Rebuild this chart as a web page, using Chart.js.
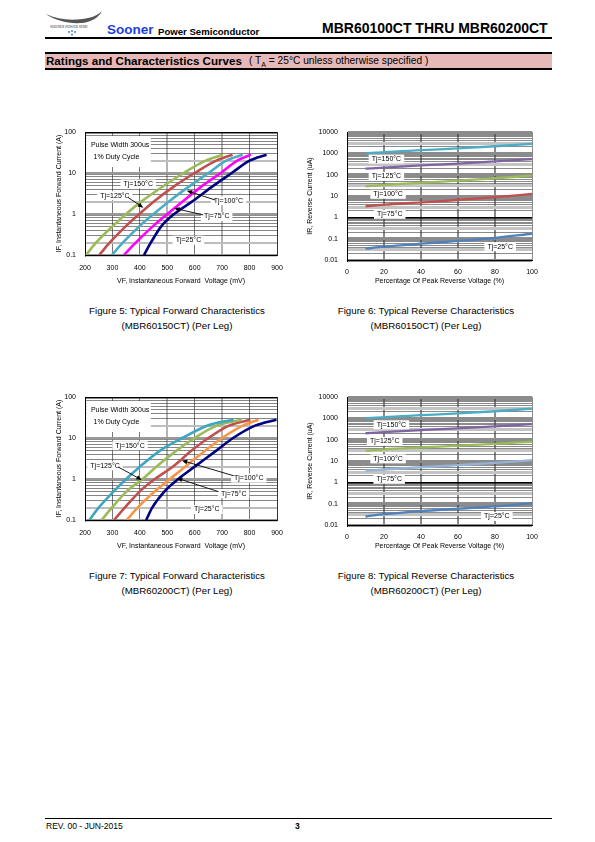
<!DOCTYPE html>
<html>
<head>
<meta charset="utf-8">
<script src="https://cdn.jsdelivr.net/npm/chart.js@4.4.1/dist/chart.umd.min.js"></script>
<style>
  body { margin: 0; background: #fff; font-family: "Liberation Sans", Arial, sans-serif; }
  #page { position: relative; width: 595px; height: 842px; overflow: hidden; }
  canvas { position: absolute; }
  .t { position: absolute; white-space: nowrap; color: #000; }
  .cap { position: absolute; width: 260px; text-align: center; font-size: 9.7px; line-height: 15px; }
</style>
</head>
<body>
<div id="page">
  <svg class="t" style="left:44px;top:9px" width="62" height="28" viewBox="0 0 62 28">
    <path d="M2 5 C 14 11, 30 12, 44 9 C 50 8, 55 5, 58 2 C 55 8, 48 13, 38 14 C 24 15, 10 11, 2 5 Z" fill="#555"/>
    <text x="6" y="19" font-size="3.6" font-family="Liberation Serif" fill="#333">SOONER POWER SEMI</text>
    <circle cx="25" cy="23" r="0.9" fill="#3a7bd5"/><circle cx="28" cy="22" r="0.9" fill="#3a7bd5"/>
    <circle cx="31" cy="23" r="0.9" fill="#3a7bd5"/><circle cx="28" cy="25.5" r="0.9" fill="#3a7bd5"/>
  </svg>
  <div class="t" style="left:107px;top:22px;font-size:13.5px;font-weight:bold;color:#1d3fe0">Sooner</div>
  <div class="t" style="left:158px;top:26px;font-size:9.6px;font-weight:bold">Power Semiconductor</div>
  <div class="t" style="left:322px;top:20px;font-size:14px;font-weight:bold">MBR60100CT THRU MBR60200CT</div>
  <div style="position:absolute;left:45px;top:37px;width:507px;height:1.5px;background:#000"></div>

  <div style="position:absolute;left:45px;top:52px;width:507px;height:18px;box-sizing:border-box;background:#e6b9b8;border-top:2px solid #000;border-bottom:2px solid #000"></div>
  <div class="t" style="left:46px;top:53.5px;font-size:11.6px;font-weight:bold">Ratings and Characteristics Curves</div>
  <div class="t" style="left:249px;top:54.5px;font-size:10.2px">( T<sub style="font-size:7px">A</sub> = 25°C unless otherwise specified )</div>

  <canvas id="fig5" width="235" height="165" style="left:50px;top:125px"></canvas>
  <canvas id="fig6" width="240" height="165" style="left:300px;top:125px"></canvas>
  <canvas id="fig7" width="235" height="165" style="left:50px;top:390px"></canvas>
  <canvas id="fig8" width="240" height="165" style="left:300px;top:390px"></canvas>

  <div class="cap" style="left:47px;top:303px">Figure 5: Typical Forward Characteristics<br>(MBR60150CT) (Per Leg)</div>
  <div class="cap" style="left:296px;top:303px">Figure 6: Typical Reverse Characteristics<br>(MBR60150CT) (Per Leg)</div>
  <div class="cap" style="left:47px;top:568px">Figure 7: Typical Forward Characteristics<br>(MBR60200CT) (Per Leg)</div>
  <div class="cap" style="left:296px;top:568px">Figure 8: Typical Reverse Characteristics<br>(MBR60200CT) (Per Leg)</div>

  <div style="position:absolute;left:45px;top:818px;width:507px;height:1.3px;background:#000"></div>
  <div class="t" style="left:46px;top:821px;font-size:8.5px">REV. 00 - JUN-2015</div>
  <div class="t" style="left:295px;top:821px;font-size:8.5px;font-weight:bold">3</div>
</div>

<script>
// forward curves: current levels (A) and voltage (mV) read per curve
const fwdCurrent = [0.1, 0.2, 0.5, 1, 2, 5, 10, 20, 28];
const fwdVoltTicks = [200, 300, 400, 500, 600, 700, 800, 900];
const fwdCurrTicks = [0.1, 1, 10, 100];

const f5_150 = [204, 240, 300, 350, 405, 490, 560, 640, 703];
const f5_125 = [252, 290, 348, 398, 450, 530, 600, 678, 738];
const f5_100 = [298, 338, 398, 450, 505, 585, 650, 715, 775];
const f5_75 = [342, 385, 447, 500, 555, 630, 695, 755, 805];
const f5_25 = [415, 440, 478, 525, 590, 670, 735, 800, 862];

const f7_150 = [216, 250, 305, 350, 400, 475, 555, 645, 742];
const f7_125 = [261, 298, 352, 410, 460, 535, 600, 680, 772];
const f7_100 = [306, 345, 400, 455, 520, 590, 650, 725, 803];
const f7_75 = [352, 392, 455, 510, 565, 640, 700, 775, 833];
const f7_25 = [423, 445, 490, 540, 600, 680, 740, 820, 898];

// reverse curves: percent of peak reverse voltage and current (uA)
const revPct = [10, 20, 40, 60, 80, 100];
const revPctTicks = [0, 20, 40, 60, 80, 100];
const revCurrTicks = [0.01, 0.1, 1, 10, 100, 1000, 10000];

const f6_150 = [1000, 1150, 1400, 1700, 2150, 2800];
const f6_125 = [190, 215, 270, 330, 420, 540];
const f6_100 = [28, 33, 42, 52, 68, 90];
const f6_75 = [3.3, 3.9, 5.0, 6.5, 8.8, 12.5];
const f6_25 = [0.034, 0.042, 0.058, 0.078, 0.11, 0.17];

const f8_150 = [1000, 1150, 1400, 1700, 2150, 2850];
const f8_125 = [200, 225, 280, 340, 420, 540];
const f8_100 = [30, 35, 43, 52, 64, 80];
const f8_75 = [3.5, 4.0, 5.1, 6.4, 8.2, 11];
const f8_25 = [0.025, 0.032, 0.045, 0.058, 0.075, 0.105];

const FONT = "Liberation Sans";

function logGrid(lo, hi) {
  const out = [];
  for (let e = lo; e < hi; e++)
    for (let m = 1; m <= 9; m++) out.push(+(m * Math.pow(10, e)).toPrecision(3));
  out.push(Math.pow(10, hi));
  return out;
}
function mant(v) {
  return Math.round(v / Math.pow(10, Math.floor(Math.log10(v) + 1e-9)));
}

function notesPlugin(notes) {
  return {
    id: 'notes',
    beforeDatasetsDraw(chart) {
      const { ctx, scales: { x, y } } = chart;
      ctx.save();
      ctx.font = '7px "' + FONT + '"';
      ctx.textAlign = 'center';
      ctx.textBaseline = 'middle';
      (notes.boxes || []).forEach(b => {
        const x0 = x.getPixelForValue(b.x0), x1 = x.getPixelForValue(b.x1);
        const y0 = y.getPixelForValue(b.y0), y1 = y.getPixelForValue(b.y1);
        ctx.fillStyle = '#fff';
        ctx.fillRect(x0, y0, x1 - x0, y1 - y0);
      });
      notes.labels.forEach(l => {
        const px = x.getPixelForValue(l.x), py = y.getPixelForValue(l.y);
        const w = ctx.measureText(l.text).width + (l.plain ? 0 : 6);
        if (!l.plain) {
          ctx.fillStyle = '#fff';
          ctx.fillRect(px - w / 2, py - 4.5, w, 9);
        }
        ctx.fillStyle = '#000';
        ctx.fillText(l.text, px, py);
      });
      ctx.restore();
    },
    afterDatasetsDraw(chart) {
      const { ctx, scales: { x, y } } = chart;
      ctx.save();
      ctx.strokeStyle = '#000';
      ctx.fillStyle = '#000';
      ctx.lineWidth = 0.9;
      (notes.arrows || []).forEach(a => {
        const x0 = x.getPixelForValue(a[0]), y0 = y.getPixelForValue(a[1]);
        const x1 = x.getPixelForValue(a[2]), y1 = y.getPixelForValue(a[3]);
        const ang = Math.atan2(y1 - y0, x1 - x0);
        ctx.beginPath();
        ctx.moveTo(x0, y0);
        ctx.lineTo(x1 - 4 * Math.cos(ang), y1 - 4 * Math.sin(ang));
        ctx.stroke();
        ctx.beginPath();
        ctx.moveTo(x1, y1);
        ctx.lineTo(x1 - 5.5 * Math.cos(ang) + 2.3 * Math.sin(ang), y1 - 5.5 * Math.sin(ang) - 2.3 * Math.cos(ang));
        ctx.lineTo(x1 - 5.5 * Math.cos(ang) - 2.3 * Math.sin(ang), y1 - 5.5 * Math.sin(ang) + 2.3 * Math.cos(ang));
        ctx.closePath();
        ctx.fill();
      });
      ctx.restore();
    }
  };
}

function makeChart(id, cfg) {
  const tickFont = { family: FONT, size: 7 };
  const titleFont = { family: FONT, size: 7 };
  new Chart(document.getElementById(id), {
    type: 'line',
    data: {
      datasets: cfg.series.map((s, i) => ({
        data: s.map((v, k) => cfg.swap ? { x: v, y: cfg.levels[k] } : { x: cfg.levels[k], y: v }),
        borderColor: cfg.colors[i],
        borderWidth: cfg.lineWidth,
        pointRadius: 0,
        fill: false,
        tension: 0.4,
        cubicInterpolationMode: 'monotone'
      }))
    },
    options: {
      responsive: false,
      animation: false,
      layout: { padding: { top: 7, right: 8 } },
      plugins: { legend: { display: false }, tooltip: { enabled: false } },
      scales: {
        x: {
          type: 'linear', min: cfg.xTicks[0], max: cfg.xTicks[cfg.xTicks.length - 1],
          afterBuildTicks: ax => { ax.ticks = cfg.xTicks.map(v => ({ value: v })); },
          afterFit: s => { s.height = cfg.xHeight; s.paddingLeft = 0; s.paddingRight = 0; },
          ticks: { font: tickFont, color: '#000', padding: cfg.xPad, maxRotation: 0, autoSkip: false },
          grid: {
            drawTicks: false,
            color: c => cfg.xGridColor(c.tick.value),
            lineWidth: c => cfg.xGridWidth(c.tick.value)
          },
          border: { display: true, color: '#000', width: 1 },
          title: { display: true, text: cfg.xTitle, font: titleFont, color: '#000', padding: { top: 0, bottom: 5 } }
        },
        y: {
          type: 'logarithmic', min: cfg.yTicks[0], max: cfg.yTicks[cfg.yTicks.length - 1],
          afterBuildTicks: ax => { ax.ticks = cfg.yGrid.map(v => ({ value: v })); },
          afterFit: s => { s.width = cfg.yWidth; s.paddingTop = 0; s.paddingBottom = 0; },
          ticks: {
            font: tickFont, color: '#000', padding: 9, autoSkip: false,
            callback: v => cfg.yTicks.includes(v) ? String(v) : ''
          },
          grid: {
            drawTicks: false,
            color: c => cfg.yGridColor(c.tick.value),
            lineWidth: c => cfg.yGridWidth(c.tick.value)
          },
          border: { display: true, color: '#000', width: 1 },
          title: { display: true, text: cfg.yTitle, font: titleFont, color: '#000', padding: { top: cfg.yTitlePad, bottom: 0 } }
        }
      }
    },
    plugins: [notesPlugin(cfg.notes)]
  });
}

// gridline styling
const fwdXColor = v => (v === 900 ? '#000' : (v === 500 || v === 700) ? '#b4b4b4' : '#555');
const fwdXWidth = v => (v === 500 || v === 700) ? 2 : 0.8;
const fwdYColor = v => (v === 100 ? '#000' : mant(v) === 1 ? '#9a9a9a' : mant(v) === 2 ? '#bdbdbd' : '#333');
const fwdYWidth = v => (v === 100 ? 1 : mant(v) === 1 ? 2.5 : mant(v) === 2 ? 2 : 0.6);
const revXColor = v => (v === 0 ? '#000' : '#8a8a8a');
const revXWidth = v => (v === 0 || v === 100 ? 1 : 2);
const revYColor = v => (v === 1 ? '#000' : mant(v) === 1 ? '#8c8c8c' : mant(v) === 3 ? '#c4c4c4' : '#3c3c3c');
const revYWidth = v => (v === 1 ? 1.5 : mant(v) === 1 || mant(v) === 3 ? 3 : 0.6);

const fwdBase = {
  swap: true, levels: fwdCurrent, lineWidth: 2.6,
  xTicks: fwdVoltTicks, yTicks: fwdCurrTicks, yGrid: logGrid(-1, 2),
  xHeight: 35, yWidth: 35, xPad: 9, yTitlePad: 5,
  xTitle: 'VF, Instantaneous Forward  Voltage (mV)',
  yTitle: 'IF, Instantaneous Forward Current (A)',
  xGridColor: fwdXColor, xGridWidth: fwdXWidth, yGridColor: fwdYColor, yGridWidth: fwdYWidth
};
const revBase = {
  swap: false, levels: revPct, lineWidth: 2.3,
  xTicks: revPctTicks, yTicks: revCurrTicks, yGrid: logGrid(-2, 4),
  xHeight: 30, yWidth: 47, xPad: 8, yTitlePad: 6,
  xTitle: 'Percentage Of Peak Reverse Voltage (%)',
  yTitle: 'IR, Reverse Current (uA)',
  xGridColor: revXColor, xGridWidth: revXWidth, yGridColor: revYColor, yGridWidth: revYWidth
};

makeChart('fig5', Object.assign({}, fwdBase, {
  series: [f5_150, f5_125, f5_100, f5_75, f5_25],
  colors: ['#9bbb59', '#c0504d', '#4bacc6', '#ff00ff', '#000080'],
  notes: {
    boxes: [{ x0: 205, x1: 440, y0: 80, y1: 14 }],
    labels: [
      { text: 'Pulse Width 300us', x: 328, y: 49, plain: true },
      { text: '1% Duty Cycle', x: 315, y: 24, plain: true },
      { text: 'Tj=150°C', x: 394, y: 5.4 },
      { text: 'Tj=125°C', x: 309, y: 2.8 },
      { text: 'Tj=100°C', x: 723, y: 2.1 },
      { text: 'Tj=75°C', x: 680, y: 0.87 },
      { text: 'Tj=25°C', x: 577, y: 0.23 }
    ],
    arrows: [[358, 2.5, 413, 1.43], [674, 2.2, 571, 3.7], [631, 0.95, 525, 1.38]]
  }
}));

makeChart('fig7', Object.assign({}, fwdBase, {
  series: [f7_150, f7_125, f7_100, f7_75, f7_25],
  colors: ['#3fa6c2', '#9bbb59', '#c0504d', '#f79646', '#000080'],
  notes: {
    boxes: [{ x0: 205, x1: 440, y0: 80, y1: 14 }],
    labels: [
      { text: 'Pulse Width 300us', x: 328, y: 49, plain: true },
      { text: '1% Duty Cycle', x: 315, y: 24, plain: true },
      { text: 'Tj=150°C', x: 364, y: 6.5 },
      { text: 'Tj=125°C', x: 273, y: 2.1 },
      { text: 'Tj=100°C', x: 797, y: 1.05 },
      { text: 'Tj=75°C', x: 742, y: 0.44 },
      { text: 'Tj=25°C', x: 644, y: 0.18 }
    ],
    arrows: [[322, 1.95, 407, 0.95], [742, 1.2, 553, 2.83], [687, 0.49, 535, 1.05]]
  }
}));

makeChart('fig6', Object.assign({}, revBase, {
  series: [f6_150, f6_125, f6_100, f6_75, f6_25],
  colors: ['#4bacc6', '#8064a2', '#9bbb59', '#c0504d', '#4f81bd'],
  notes: {
    labels: [
      { text: 'Tj=150°C', x: 21.3, y: 537 },
      { text: 'Tj=125°C', x: 21.3, y: 83 },
      { text: 'Tj=100°C', x: 22.2, y: 12 },
      { text: 'Tj=75°C', x: 23.1, y: 1.38 },
      { text: 'Tj=25°C', x: 82.8, y: 0.042 }
    ]
  }
}));

makeChart('fig8', Object.assign({}, revBase, {
  series: [f8_150, f8_125, f8_100, f8_75, f8_25],
  colors: ['#4bacc6', '#8064a2', '#9bbb59', '#95b3d7', '#4f81bd'],
  notes: {
    labels: [
      { text: 'Tj=150°C', x: 24, y: 500 },
      { text: 'Tj=125°C', x: 20.4, y: 83 },
      { text: 'Tj=100°C', x: 22.2, y: 12.6 },
      { text: 'Tj=75°C', x: 22.8, y: 1.38 },
      { text: 'Tj=25°C', x: 81, y: 0.025 }
    ]
  }
}));
</script>
</body>
</html>
